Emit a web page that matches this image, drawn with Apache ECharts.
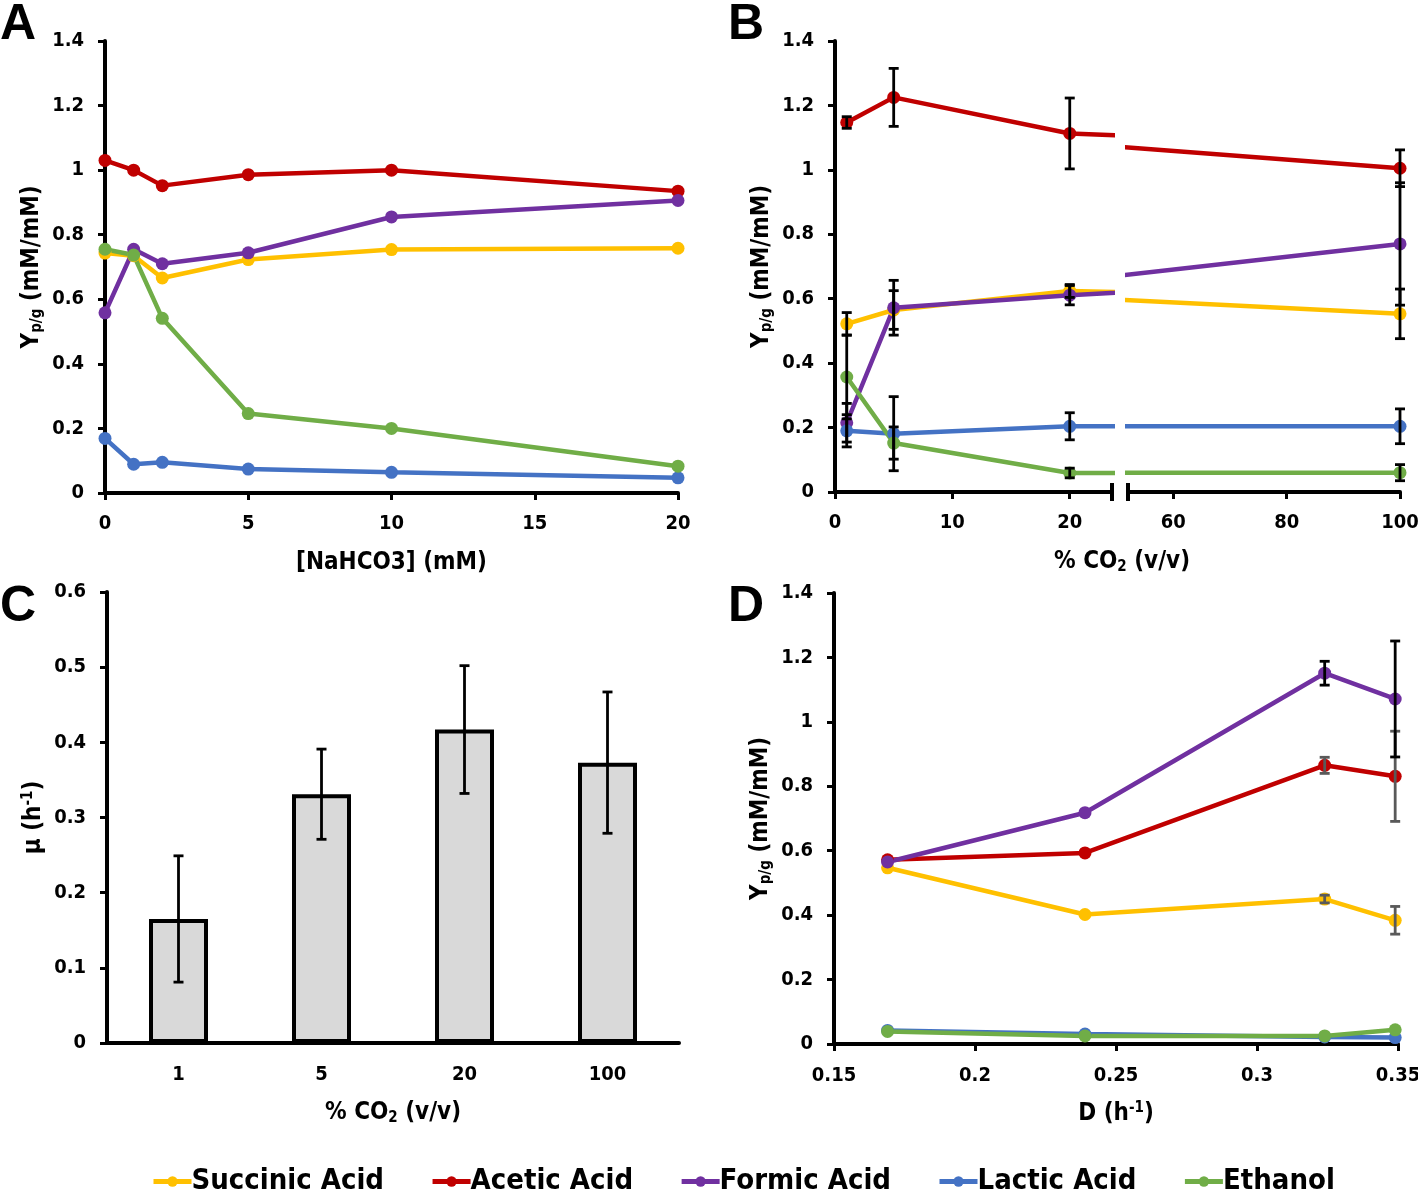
<!DOCTYPE html>
<html>
<head>
<meta charset="utf-8">
<script src="https://cdn.jsdelivr.net/npm/echarts@6/dist/echarts.min.js"></script>
<style>
    html, body { margin: 0; padding: 0; background: #fff; }
    #main { width: 1418px; height: 1193px; }
</style>
</head>
<body>
<div id="main"></div>
<script>
    var FONT = '"Liberation Sans Narrow", "DejaVu Sans Condensed", "Liberation Sans", sans-serif';

    var seriesNames = ['Succinic Acid', 'Acetic Acid', 'Formic Acid', 'Lactic Acid', 'Ethanol'];
    var seriesColors = ['#FFC000', '#C00000', '#7030A0', '#4472C4', '#70AD47'];

    // A - NaHCO3
    var nahco3 = [0, 1, 2, 5, 10, 20];
    var aSuccinic = [0.743, 0.735, 0.666, 0.723, 0.754, 0.758];
    var aAcetic = [1.030, 1.000, 0.952, 0.986, 1.000, 0.935];
    var aFormic = [0.558, 0.755, 0.710, 0.744, 0.855, 0.906];
    var aLactic = [0.169, 0.089, 0.095, 0.074, 0.064, 0.047];
    var aEthanol = [0.755, 0.737, 0.541, 0.246, 0.200, 0.083];

    // B - % CO2 (broken axis)
    var co2Pct = [1, 5, 20, 100];
    var bSuccinic = [0.522, 0.565, 0.624, 0.553];
    var bSuccinicErr = [0.035, 0.06, 0.02, 0.077];
    var bAcetic = [1.147, 1.225, 1.113, 1.005];
    var bAceticErr = [0.018, 0.09, 0.11, 0.057];
    var bFormic = [0.215, 0.572, 0.611, 0.770];
    var bFormicErr = [0.06, 0.085, 0.03, 0.19];
    var bLactic = [0.190, 0.181, 0.204, 0.204];
    var bLacticErr = [0.05, 0.115, 0.042, 0.054];
    var bEthanol = [0.357, 0.152, 0.059, 0.060];
    var bEthanolErr = [0.13, 0.05, 0.015, 0.025];
    var bBreakLeft = 23.6;
    var bBreakRight = 52;

    // C - growth rate
    var cCo2 = ['1', '5', '20', '100'];
    var cMu = [0.165, 0.331, 0.417, 0.373];
    var cMuErr = [0.084, 0.06, 0.085, 0.094];

    // D - dilution rate
    var dRate = [0.169, 0.239, 0.324, 0.349];
    var dSuccinic = [0.547, 0.402, 0.450, 0.384];
    var dSuccinicErr = [null, null, 0.012, 0.043];
    var dAcetic = [0.572, 0.593, 0.865, 0.831];
    var dAceticErr = [null, null, 0.025, 0.14];
    var dFormic = [0.565, 0.718, 1.151, 1.071];
    var dFormicErr = [null, null, 0.037, 0.18];
    var dLactic = [0.042, 0.031, 0.022, 0.020];
    var dEthanol = [0.039, 0.025, 0.025, 0.044];

    function zip(xs, ys) {
        return xs.map(function(x, i) {
            return [x, ys[i]];
        });
    }

    function errRows(xs, ys, errs, keep) {
        var rows = [];
        for (var i = 0; i < xs.length; i++) {
            if (errs[i] == null) continue;
            if (keep && !keep(xs[i])) continue;
            rows.push([xs[i], ys[i] - errs[i], ys[i] + errs[i]]);
        }
        return rows;
    }

    function renderErr(params, api) {
        var hi = api.coord([api.value(0), api.value(2)]);
        var lo = api.coord([api.value(0), api.value(1)]);
        var c = api.visual('color');
        var w = 5;
        var st = { stroke: c, lineWidth: 2.8 };
        return {
            type: 'group',
            children: [
                { type: 'line', shape: { x1: hi[0], y1: hi[1], x2: lo[0], y2: lo[1] }, style: st },
                { type: 'line', shape: { x1: hi[0] - w, y1: hi[1], x2: hi[0] + w, y2: hi[1] }, style: st },
                { type: 'line', shape: { x1: lo[0] - w, y1: lo[1], x2: lo[0] + w, y2: lo[1] }, style: st }
            ]
        };
    }

    function errSeries(idx, rows, color) {
        return {
            type: 'custom',
            name: 'err',
            xAxisIndex: idx,
            yAxisIndex: idx,
            data: rows,
            encode: { x: 0, y: [1, 2] },
            itemStyle: { color: color },
            renderItem: renderErr,
            silent: true,
            z: 5
        };
    }

    function lineSeries(k, idx, data) {
        return {
            type: 'line',
            name: seriesNames[k],
            xAxisIndex: idx,
            yAxisIndex: idx,
            data: data,
            symbol: 'circle',
            symbolSize: 13,
            clip: true,
            lineStyle: { width: 4.5, color: seriesColors[k] },
            itemStyle: { color: seriesColors[k] },
            z: 3
        };
    }

    var labelStyle = { color: '#000', fontSize: 20, fontWeight: 'bold', fontFamily: FONT };
    var nameStyle = {
        color: '#000', fontSize: 24, fontWeight: 'bold', fontFamily: FONT,
        rich: {
            a: { fontSize: 24, fontWeight: 'bold', fontFamily: FONT, color: '#000' },
            sub: { fontSize: 15, fontWeight: 'bold', fontFamily: FONT, color: '#000', padding: [11, 0, 0, 0] },
            sup: { fontSize: 15, fontWeight: 'bold', fontFamily: FONT, color: '#000', padding: [0, 0, 11, 0] }
        }
    };
    var axLine = { show: true, lineStyle: { color: '#000', width: 4 } };
    var axTick = { show: true, length: 7, lineStyle: { color: '#000', width: 3 } };

    function valueAxis(extra) {
        var ax = {
            type: 'value',
            axisLine: axLine,
            axisTick: axTick,
            splitLine: { show: false },
            axisLabel: Object.assign({ margin: 21 }, labelStyle),
            nameTextStyle: nameStyle
        };
        return Object.assign(ax, extra);
    }

    var yName = '{a|Y}{sub|p/g}{a| (mM/mM)}';

    var chart = echarts.init(document.getElementById('main'));

    var series = [];
    var aData = [aSuccinic, aAcetic, aFormic, aLactic, aEthanol];
    var bData = [bSuccinic, bAcetic, bFormic, bLactic, bEthanol];
    var bErr = [bSuccinicErr, bAceticErr, bFormicErr, bLacticErr, bEthanolErr];
    var dData = [dSuccinic, dAcetic, dFormic, dLactic, dEthanol];
    var dErrs = [dSuccinicErr, dAceticErr, dFormicErr, null, null];
    var dErrColor = ['#595959', '#595959', '#000', '#000', '#000'];

    for (var k = 0; k < 5; k++) {
        series.push(lineSeries(k, 0, zip(nahco3, aData[k])));
        series.push(lineSeries(k, 1, zip(co2Pct, bData[k])));
        series.push(lineSeries(k, 2, zip(co2Pct, bData[k])));
        series.push(lineSeries(k, 4, zip(dRate, dData[k])));
    }
    for (var k = 0; k < 5; k++) {
        series.push(errSeries(1, errRows(co2Pct, bData[k], bErr[k], function(x) { return x <= bBreakLeft; }), '#000'));
        series.push(errSeries(2, errRows(co2Pct, bData[k], bErr[k], function(x) { return x >= bBreakRight; }), '#000'));
        if (dErrs[k]) {
            series.push(errSeries(4, errRows(dRate, dData[k], dErrs[k]), dErrColor[k]));
        }
    }
    series.push({
        type: 'bar',
        name: 'mu',
        xAxisIndex: 3,
        yAxisIndex: 3,
        data: cMu,
        barWidth: 59,
        itemStyle: { color: '#d9d9d9', borderColor: '#000', borderWidth: 4 },
        z: 2
    });
    series.push(errSeries(3, errRows([0, 1, 2, 3], cMu, cMuErr), '#000'));

    var option = {
        backgroundColor: '#fff',
        animation: false,
        textStyle: { fontFamily: FONT },
        grid: [
            { left: 105, top: 41, width: 573, height: 452, outerBoundsMode: 'none' },
            { left: 835, top: 41, width: 277, height: 451, outerBoundsMode: 'none' },
            { left: 1128, top: 41, width: 272, height: 451, outerBoundsMode: 'none' },
            { left: 107, top: 592, width: 572, height: 451, outerBoundsMode: 'none' },
            { left: 834, top: 593, width: 564, height: 451, outerBoundsMode: 'none' }
        ],
        xAxis: [
            valueAxis({
                gridIndex: 0, min: 0, max: 20, interval: 5,
                name: '{a|[NaHCO3] (mM)}', nameLocation: 'middle', nameGap: 58,
                axisLabel: Object.assign({ margin: 21 }, labelStyle)
            }),
            valueAxis({
                gridIndex: 1, min: 0, max: bBreakLeft,
                axisLabel: Object.assign({ margin: 21, customValues: [0, 10, 20] }, labelStyle),
                axisTick: Object.assign({ customValues: [0, 10, 20] }, axTick)
            }),
            valueAxis({
                gridIndex: 2, min: bBreakRight, max: 100,
                axisLabel: Object.assign({ margin: 21, customValues: [60, 80, 100] }, labelStyle),
                axisTick: Object.assign({ customValues: [60, 80, 100] }, axTick)
            }),
            {
                type: 'category', gridIndex: 3, data: cCo2,
                axisLine: axLine, axisTick: { show: false },
                axisLabel: Object.assign({ margin: 22 }, labelStyle),
                name: '{a|% CO}{sub|2}{a| (v/v)}', nameLocation: 'middle', nameGap: 57,
                nameTextStyle: nameStyle
            },
            valueAxis({
                gridIndex: 4, min: 0.15, max: 0.35, interval: 0.05,
                name: '{a|D (h}{sup|-1}{a|)}', nameLocation: 'middle', nameGap: 57,
                axisLabel: Object.assign({ margin: 22 }, labelStyle)
            })
        ],
        yAxis: [
            valueAxis({ gridIndex: 0, min: 0, max: 1.4, interval: 0.2, name: yName, nameLocation: 'middle', nameGap: 60 }),
            valueAxis({ gridIndex: 1, min: 0, max: 1.4, interval: 0.2, name: yName, nameLocation: 'middle', nameGap: 60 }),
            { type: 'value', gridIndex: 2, min: 0, max: 1.4, show: false },
            valueAxis({ gridIndex: 3, min: 0, max: 0.6, interval: 0.1, name: '{a|μ (h}{sup|-1}{a|)}', nameLocation: 'middle', nameGap: 60 }),
            valueAxis({ gridIndex: 4, min: 0, max: 1.4, interval: 0.2, name: yName, nameLocation: 'middle', nameGap: 60 })
        ],
        legend: {
            data: seriesNames,
            top: 1162,
            left: 146,
            itemWidth: 38,
            itemHeight: 13,
            itemGap: 46,
            lineStyle: { width: 5 },
            textStyle: { color: '#000', fontSize: 29, fontWeight: 'bold', fontFamily: FONT, padding: [0, 0, 0, -5] }
        },
        series: series
    };
    chart.setOption(option);

    // panel letters, B axis name and the break marks
    var bl = chart.convertToPixel({ gridIndex: 1 }, [bBreakLeft, 0]);
    var br = chart.convertToPixel({ gridIndex: 2 }, [bBreakRight, 0]);
    var letter = { fill: '#000', fontSize: 50, fontWeight: 'bold', fontFamily: '"Liberation Sans", Arial, sans-serif' };
    chart.setOption({
        graphic: [
            { type: 'text', x: 0, y: 0, style: Object.assign({ text: 'A' }, letter) },
            { type: 'text', x: 728, y: 0, style: Object.assign({ text: 'B' }, letter) },
            { type: 'text', x: 0, y: 582, style: Object.assign({ text: 'C' }, letter) },
            { type: 'text', x: 728, y: 582, style: Object.assign({ text: 'D' }, letter) },
            {
                type: 'text', x: (bl[0] + br[0]) / 2 + 2, y: 549,
                style: { text: '{a|% CO}{sub|2}{a| (v/v)}', align: 'center', rich: nameStyle.rich }
            },
            { type: 'line', shape: { x1: bl[0], y1: bl[1] - 9, x2: bl[0], y2: bl[1] + 9 }, style: { stroke: '#000', lineWidth: 4 } },
            { type: 'line', shape: { x1: br[0], y1: br[1] - 9, x2: br[0], y2: br[1] + 9 }, style: { stroke: '#000', lineWidth: 4 } }
        ]
    });
</script>
</body>
</html>
